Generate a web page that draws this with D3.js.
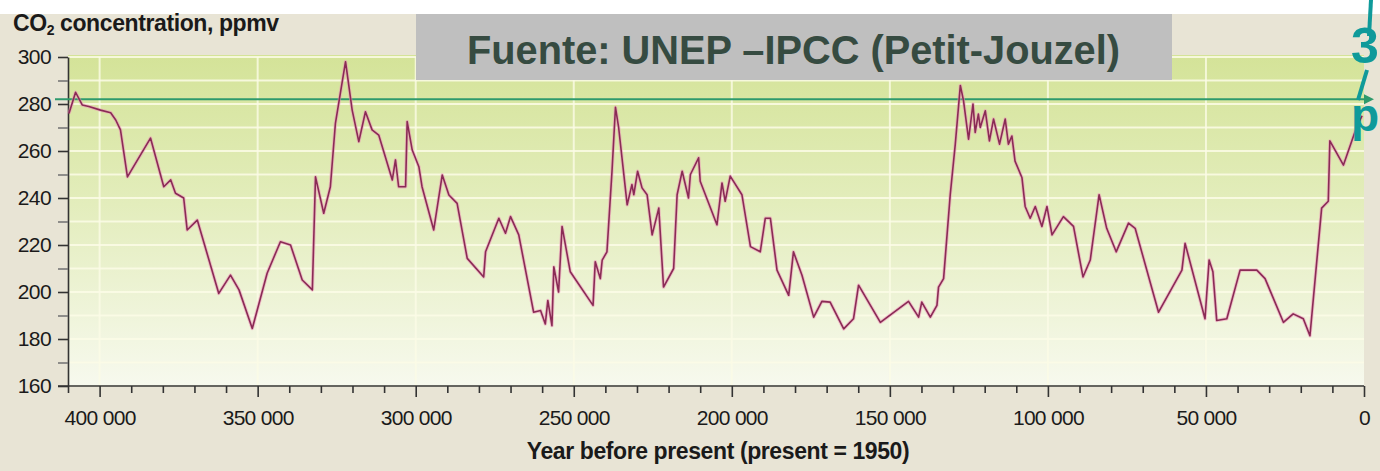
<!DOCTYPE html>
<html lang="en">
  <head>
    <meta charset="UTF-8" />
    <title>CO2 Vostok</title>
    <script src="https://d3js.org/d3.v7.min.js"></script>
    <style>
      body {
        margin: 0;
        background: #ffffff;
      }
      svg {
        display: block;
        font-family: "Liberation Sans", Arial, sans-serif;
      }
    </style>
  </head>
  <body>
    <svg id="chart" width="1380" height="471"></svg>

    <script>
      // years before present (1950)
      const years = [
        409700, 407600, 405500, 403400, 399700, 396500, 394900, 393400, 391200, 383900,
        379700, 377500, 376000, 373400, 372300, 369100, 362300, 358600, 355900, 351700,
        347000, 342800, 339600, 335900, 332700, 331700, 329100, 327000, 325400, 322200,
        320100, 318000, 315900, 313800, 311700, 307400, 306400, 305400, 303200, 302700,
        301100, 299000, 298000, 294300, 291600, 289500, 286900, 283700, 278500, 277900,
        273700, 271600, 270000, 267400, 262700, 260500, 259000, 258200, 256900, 256300,
        254800, 253700, 251100, 243900, 243200, 241600, 241000, 239500, 237900, 236800,
        235800, 233100, 231600, 231000, 229800, 228400, 226800, 225200, 223100, 221600,
        218400, 217300, 215700, 213700, 213100, 210500, 210000, 204700, 203100, 202100,
        200500, 196800, 194100, 191000, 189400, 187800, 185700, 182000, 180500, 177800,
        174100, 171500, 168900, 164600, 161500, 159900, 153000, 144100, 140900, 139900,
        137200, 135100, 134600, 133000, 130900, 129300, 127700, 126700, 125100, 123700,
        123000, 122000, 121400, 119800, 118500, 117200, 115300, 113500, 112500, 111400,
        110400, 108200, 107200, 105600, 104000, 101900, 100300, 98700, 95100, 91900,
        88900, 86600, 83800, 81400, 78400, 74500, 72400, 65000, 57600, 56600,
        50300, 49000, 47800, 46600, 43400, 39200, 33900, 31300, 25500, 22400,
        19200, 17100, 13400, 11300, 10800, 6500, 2300, 600
      ];
      // CO2 concentration, ppmv
      const co2 = [
        276, 285, 279.6, 278.9, 277.4, 276.3, 273.2, 269, 249, 265.5,
        244.8, 247.7, 242, 240, 226.4, 230.6, 199.4, 207.2, 200.9, 184.5,
        208, 221.4, 220, 205.1, 200.9, 249, 233.5, 244.8, 271.8, 298,
        277.4, 264, 276.7, 269, 266.8, 247.7, 256.2, 244.8, 244.8, 272.5,
        260.4, 253.3, 244.8, 226.4, 249.8, 241.3, 237.7, 214.3, 206.4, 217.1,
        231.4, 225, 232.1, 224.3, 191.4, 192.1, 186.4, 196.4, 185.7, 210.7,
        200, 227.9, 208.6, 194.3, 212.9, 205.7, 213.6, 217.1, 251.4, 278.6,
        270, 237.1, 245.7, 241.4, 251.4, 244.3, 241.4, 224.3, 235.7, 202.1,
        210, 241.4, 251.4, 240, 250, 257.1, 247.1, 228.6, 246.4, 238.6,
        249.3, 241.4, 219.3, 217.1, 231.4, 231.4, 209.3, 198.6, 217.1, 207.1,
        189.3, 196, 195.7, 184.3, 188.6, 202.9, 187.1, 196, 189.3, 195.7,
        189.3, 194.3, 202.1, 205.7, 241.4, 262.9, 287.9, 281.4, 265, 280,
        267.9, 275.7, 270, 277.1, 264.3, 273.6, 262.9, 273.6, 262.9, 266.4,
        255.7, 248.6, 236.4, 231.4, 236.4, 227.9, 236.4, 224.3, 232.1, 227.9,
        206.4, 213.6, 241.4, 227.1, 217.1, 229.3, 227.1, 191.4, 209.3, 220.7,
        188.6, 213.6, 208.6, 187.9, 188.6, 209.3, 209.3, 205.7, 187.1, 190.7,
        188.6, 181.4, 235.7, 238.6, 264.3, 254, 270.3, 275
      ];
      const yTicks = d3.range(160, 301, 10);
      const xTicks = d3.range(0, 410001, 10000);
      const referenceLevel = 282;
      const sourceText = "Fuente: UNEP \u2013IPCC (Petit-Jouzel)";

      const data = years.map((y, i) => ({ year: y, value: co2[i] }));

      const svg = d3.select("#chart");
      const plot = { left: 68, right: 1364, top: 57, bottom: 386 };

      const x = d3.scaleLinear().domain([410000, 0]).range([plot.left, plot.right]);
      const y = d3.scaleLinear().domain([160, 300]).range([plot.bottom, plot.top]);

      const fmt = d3.formatLocale({ decimal: ".", thousands: " ", grouping: [3], currency: ["", ""] }).format(",");

      // page background
      svg.append("rect").attr("x", 0).attr("y", 14).attr("width", 1380).attr("height", 457).attr("fill", "#e8e4d5");

      const defs = svg.append("defs");
      const grad = defs.append("linearGradient").attr("id", "bg").attr("x1", 0).attr("y1", 0).attr("x2", 0).attr("y2", 1);
      grad.append("stop").attr("offset", "0%").attr("stop-color", "#d4e398");
      grad.append("stop").attr("offset", "45%").attr("stop-color", "#e3edbc");
      grad.append("stop").attr("offset", "100%").attr("stop-color", "#f7f9ee");

      svg.append("rect")
        .attr("x", plot.left).attr("y", plot.top - 2)
        .attr("width", plot.right - plot.left).attr("height", plot.bottom - plot.top + 2)
        .attr("fill", "url(#bg)");

      // grid
      svg.append("g").selectAll("line").data(yTicks).enter().append("line")
        .attr("x1", plot.left).attr("x2", plot.right)
        .attr("y1", (d) => y(d)).attr("y2", (d) => y(d))
        .attr("stroke", "#fbfbe6").attr("stroke-opacity", 0.85).attr("stroke-width", 2);
      svg.append("g").selectAll("line").data(xTicks.filter((d) => d % 50000 === 0 && d > 0)).enter().append("line")
        .attr("x1", (d) => x(d)).attr("x2", (d) => x(d))
        .attr("y1", plot.top).attr("y2", plot.bottom)
        .attr("stroke", "#fbfbe6").attr("stroke-opacity", 0.8).attr("stroke-width", 2);

      // axes
      const yAxis = svg.append("g")
        .attr("transform", `translate(${plot.left},0)`)
        .call(d3.axisLeft(y).tickValues(yTicks).tickSize(10).tickSizeOuter(0).tickPadding(7)
          .tickFormat((d) => (d % 20 === 0 ? d : "")));
      yAxis.select(".domain").attr("stroke", "#333").attr("stroke-width", 1.6);
      yAxis.selectAll(".tick line").attr("stroke", (d) => (d % 20 === 0 ? "#333" : "#777")).attr("stroke-width", 1.6);
      yAxis.selectAll("text").attr("font-size", 21).attr("fill", "#1a1a1a").attr("letter-spacing", "-0.6px")
        .attr("font-family", "Liberation Sans, Arial, sans-serif");

      const xAxis = svg.append("g")
        .attr("transform", `translate(0,${plot.bottom})`)
        .call(d3.axisBottom(x).tickValues(xTicks).tickSizeOuter(0)
          .tickSize(7).tickFormat((d) => (d % 50000 === 0 ? fmt(d) : "")));
      xAxis.select(".domain").remove();
      xAxis.selectAll(".tick line")
        .attr("y2", (d) => (d % 50000 === 0 ? 11 : 7))
        .attr("stroke", "#333").attr("stroke-width", 1.6);
      xAxis.selectAll("text").attr("y", 39).attr("dy", null).attr("font-size", 21)
        .attr("fill", "#1a1a1a").attr("letter-spacing", "-0.7px")
        .attr("font-family", "Liberation Sans, Arial, sans-serif");
      svg.append("line")
        .attr("x1", 58).attr("x2", plot.right).attr("y1", plot.bottom).attr("y2", plot.bottom)
        .attr("stroke", "#333").attr("stroke-width", 1.6);

      // reference line with arrow
      svg.append("line")
        .attr("x1", 55).attr("x2", plot.right + 2)
        .attr("y1", y(referenceLevel)).attr("y2", y(referenceLevel))
        .attr("stroke", "#2e9a6c").attr("stroke-width", 2);
      svg.append("path")
        .attr("d", `M${plot.right},${y(referenceLevel) - 5} L${plot.right + 10},${y(referenceLevel)} L${plot.right},${y(referenceLevel) + 5} Z`)
        .attr("fill", "#2e9a6c");

      // CO2 curve
      const line = d3.line().x((d) => x(d.year)).y((d) => y(d.value));
      svg.append("path").datum(data).attr("d", line)
        .attr("fill", "none").attr("stroke", "#ec8fb8").attr("stroke-opacity", 0.55)
        .attr("stroke-width", 3.4).attr("stroke-linejoin", "round");
      svg.append("path").datum(data).attr("d", line)
        .attr("fill", "none").attr("stroke", "#8a2b55")
        .attr("stroke-width", 1.6).attr("stroke-linejoin", "round");

      // titles
      const yt = svg.append("text").attr("x", 13).attr("y", 31)
        .attr("font-size", 23).attr("font-weight", "bold").attr("fill", "#1a1a1a").attr("letter-spacing", "-0.4px");
      yt.append("tspan").text("CO");
      yt.append("tspan").text("2").attr("font-size", 14).attr("dy", 4);
      yt.append("tspan").text(" concentration, ppmv").attr("dy", -4);

      svg.append("text").attr("x", 718).attr("y", 459).attr("text-anchor", "middle")
        .attr("font-size", 23).attr("font-weight", "bold").attr("fill", "#1a1a1a").attr("letter-spacing", "-0.4px")
        .text("Year before present (present = 1950)");

      // source box
      svg.append("rect").attr("x", 416).attr("y", 14).attr("width", 756).attr("height", 66).attr("fill", "#bfbfbf");
      svg.append("text").attr("x", 467).attr("y", 64)
        .attr("font-size", 40).attr("font-weight", "bold").attr("fill", "#364b41")
        .attr("textLength", 653).attr("lengthAdjust", "spacingAndGlyphs")
        .text(sourceText);

      // teal callout fragment at right edge
      const teal = "#0f9a9a";
      svg.append("line").attr("x1", 1371).attr("y1", 0).attr("x2", 1369).attr("y2", 36)
        .attr("stroke", teal).attr("stroke-width", 4);
      svg.append("text").attr("x", 1351).attr("y", 63).attr("font-size", 50).attr("font-weight", "bold")
        .attr("fill", teal).text("3");
      svg.append("line").attr("x1", 1358).attr("y1", 100).attr("x2", 1367).attr("y2", 70)
        .attr("stroke", teal).attr("stroke-width", 4);
      svg.append("text").attr("x", 1351).attr("y", 131).attr("font-size", 46).attr("font-weight", "bold")
        .attr("fill", teal).text("p");
    </script>
  </body>
</html>
